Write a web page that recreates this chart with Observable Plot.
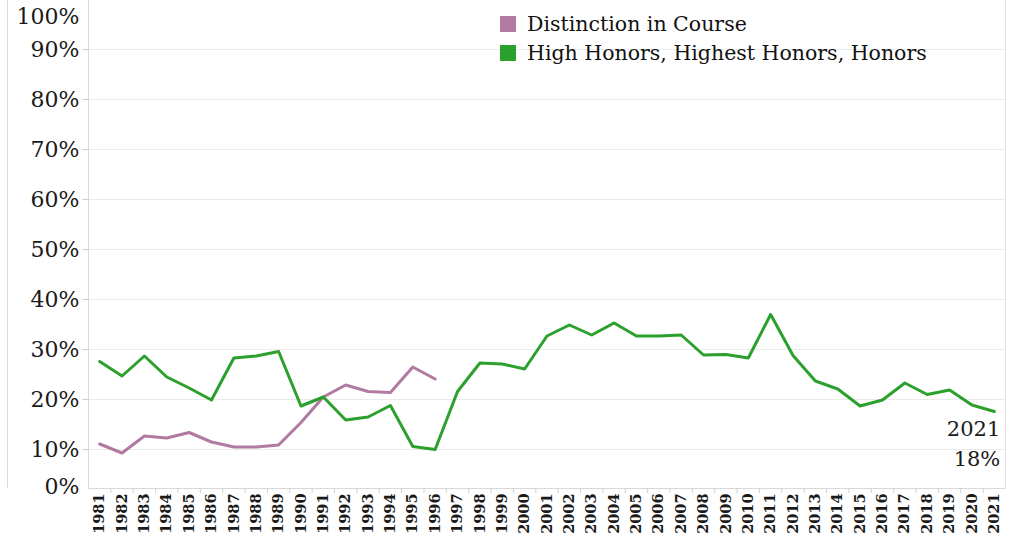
<!DOCTYPE html>
<html><head><meta charset="utf-8">
<script src="https://cdn.jsdelivr.net/npm/d3@7"></script>
<script src="https://cdn.jsdelivr.net/npm/@observablehq/plot@0.6"></script>
<style>
body{margin:0;background:#fff;}
#wrap{position:relative;width:1015px;height:555px;overflow:hidden;font-family:"DejaVu Serif",serif;}
#legend{position:absolute;left:500px;top:10px;font-size:20.5px;color:#111;line-height:29px;white-space:nowrap}
#legend .sw{display:inline-block;width:16px;height:16px;margin-right:11px;vertical-align:-1px}
#side{position:absolute;left:0;top:0;width:7px;height:488px;border-right:1px solid #ddd}
</style></head><body>
<div id="wrap"><div id="side"></div><div id="chart"></div><div id="legend"></div></div>
<script>
const years = [1981,1982,1983,1984,1985,1986,1987,1988,1989,1990,1991,1992,1993,1994,1995,1996,1997,1998,1999,2000,2001,2002,2003,2004,2005,2006,2007,2008,2009,2010,2011,2012,2013,2014,2015,2016,2017,2018,2019,2020,2021];
const honorsPct = [27.6,24.7,28.7,24.5,22.3,19.9,28.3,28.7,29.6,18.7,20.5,15.9,16.5,18.8,10.6,10.0,21.6,27.3,27.1,26.1,32.7,34.9,32.9,35.3,32.7,32.7,32.9,28.9,29.0,28.3,37.0,28.8,23.7,22.1,18.7,19.9,23.3,21.0,21.9,18.9,17.6];
const distinctionYears = [1981,1982,1983,1984,1985,1986,1987,1988,1989,1990,1991,1992,1993,1994,1995,1996];
const distinctionPct = [11.1,9.3,12.7,12.3,13.4,11.5,10.5,10.5,10.9,15.4,20.5,22.9,21.6,21.4,26.5,24.1];
const seriesNames = ["Distinction in Course","High Honors, Highest Honors, Honors"];
const seriesColors = ["#b07aa1","#2ca02c"];
const yTicks = [0.1,0.2,0.3,0.4,0.5,0.6,0.7,0.8,0.9];

const honors = years.map((y,i)=>({year:y, value:honorsPct[i]/100}));
const distinction = distinctionYears.map((y,i)=>({year:y, value:distinctionPct[i]/100}));
const boundaries = years.slice(1).map(y=>y-0.5);
const last = honors[honors.length-1];
const pct = d=>Math.round(d*100)+"%";

const chart = Plot.plot({
  width:1015, height:555,
  marginLeft:88, marginRight:10, marginTop:0, marginBottom:67,
  x:{type:"linear", domain:[years[0]-0.5, years[years.length-1]+0.5], axis:null},
  y:{domain:[0,1], range:[499,-1], axis:null},
  style:{fontFamily:"DejaVu Serif", background:"white", color:"#1a1a1a"},
  marks:[
    Plot.gridY(yTicks, {stroke:"#ebebeb", strokeOpacity:1}),
    Plot.frame({anchor:"left", stroke:"#d9d9d9"}),
    Plot.frame({anchor:"bottom", stroke:"#d9d9d9"}),
    Plot.frame({anchor:"right", stroke:"#e3e3e3"}),
    Plot.axisY(yTicks, {label:null, tickFormat:pct, fontSize:22, tickSize:6, tickPadding:3, stroke:"#d0d0d0"}),
    Plot.axisY([0], {label:null, tickFormat:pct, fontSize:22, tickSize:0, tickPadding:9, dy:-13}),
    Plot.axisY([1], {label:null, tickFormat:pct, fontSize:22, tickSize:0, tickPadding:9, dy:17}),
    Plot.axisX(boundaries, {label:null, tickSize:5, tickFormat:()=>"", stroke:"#d0d0d0"}),
    Plot.axisX(years, {label:null, tickSize:0, tickPadding:5, tickRotate:-90, tickFormat:d=>String(d), fontSize:14.5, fontWeight:"bold"}),
    Plot.lineY(distinction, {x:"year", y:"value", stroke:seriesColors[0], strokeWidth:3}),
    Plot.lineY(honors, {x:"year", y:"value", stroke:seriesColors[1], strokeWidth:3}),
    Plot.text([last], {x:"year", y:"value", text:d=>`${d.year}\n${pct(d.value)}`, textAnchor:"end", lineAnchor:"top", dx:6, dy:3, fontSize:21, lineHeight:1.43, fill:"#1a1a1a"})
  ]
});
document.getElementById("chart").append(chart);

const legend = document.getElementById("legend");
seriesNames.forEach((n,i)=>{
  const row = document.createElement("div");
  row.innerHTML = `<span class="sw" style="background:${seriesColors[i]}"></span>${n}`;
  legend.append(row);
});
</script>
</body></html>
